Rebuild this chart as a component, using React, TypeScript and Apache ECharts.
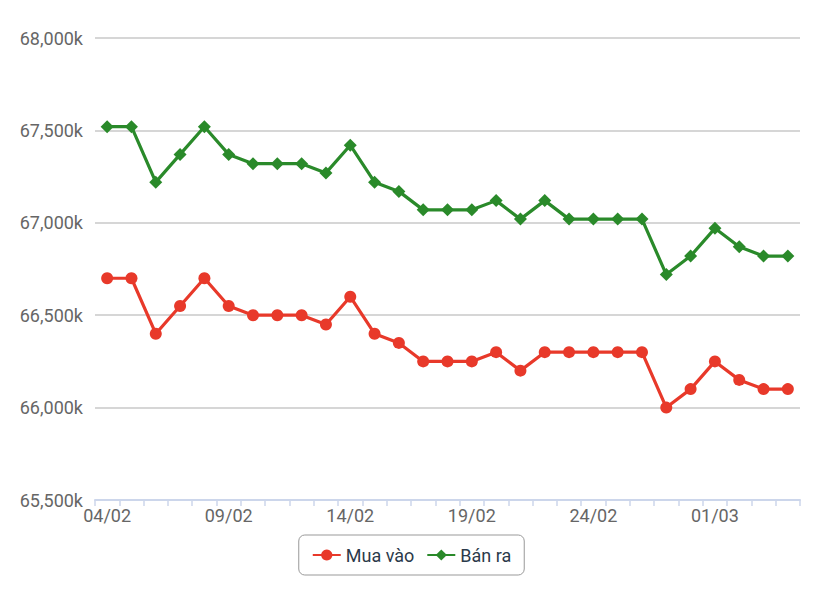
import React, { useEffect, useRef } from "react";
import * as echarts from "echarts";

const dates = [
  "04/02", "05/02", "06/02", "07/02", "08/02", "09/02", "10/02", "11/02", "12/02", "13/02",
  "14/02", "15/02", "16/02", "17/02", "18/02", "19/02", "20/02", "21/02", "22/02", "23/02",
  "24/02", "25/02", "26/02", "27/02", "28/02", "01/03", "02/03", "03/03", "04/03",
];

const muaVao = [
  66700, 66700, 66400, 66550, 66700, 66550, 66500, 66500, 66500, 66450,
  66600, 66400, 66350, 66250, 66250, 66250, 66300, 66200, 66300, 66300,
  66300, 66300, 66300, 66000, 66100, 66250, 66150, 66100, 66100,
];

const banRa = [
  67520, 67520, 67220, 67370, 67520, 67370, 67320, 67320, 67320, 67270,
  67420, 67220, 67170, 67070, 67070, 67070, 67120, 67020, 67120, 67020,
  67020, 67020, 67020, 66720, 66820, 66970, 66870, 66820, 66820,
];

const yMin = 65500;
const yMax = 68000;
const yStep = 500;

const FONT = "Roboto, 'Noto Sans', sans-serif";

export default function App() {
  const ref = useRef<HTMLDivElement>(null);
  useEffect(() => {
    if (!ref.current) return;
    const chart = echarts.init(ref.current, undefined, { renderer: "svg" });
    chart.setOption({
      animation: false,
      textStyle: { fontFamily: FONT },
      grid: { left: 95, right: 23, top: 38, bottom: 101, containLabel: false },
      legend: {
        bottom: 26,
        left: "center",
        data: ["Mua vào", "Bán ra"],
        borderColor: "#999",
        borderWidth: 1,
        borderRadius: 6,
        padding: [11, 13, 11, 13],
        itemGap: 12,
        itemWidth: 28,
        itemHeight: 14,
        textStyle: { fontSize: 18, color: "#2b3a4a", fontFamily: FONT },
      },
      xAxis: {
        type: "category",
        data: dates,
        boundaryGap: true,
        axisLine: { lineStyle: { color: "#ccd6eb", width: 2 } },
        axisTick: { show: true, interval: 0, length: 6, lineStyle: { color: "#ccd6eb", width: 1.5 } },
        axisLabel: { interval: 4, color: "#666", fontSize: 18, margin: 6, fontFamily: FONT },
      },
      yAxis: {
        type: "value",
        min: yMin,
        max: yMax,
        interval: yStep,
        axisLine: { show: false },
        axisTick: { show: false },
        splitLine: { lineStyle: { color: "#c8c8c8", width: 1.5 } },
        axisLabel: {
          color: "#666",
          fontSize: 18,
          margin: 12,
          fontFamily: FONT,
          formatter: (v: number) => v.toLocaleString("en-US") + "k",
        },
      },
      series: [
        {
          name: "Mua vào",
          type: "line",
          data: muaVao,
          symbol: "circle",
          symbolSize: 12,
          lineStyle: { color: "#e8392a", width: 3.2 },
          itemStyle: { color: "#e8392a" },
        },
        {
          name: "Bán ra",
          type: "line",
          data: banRa,
          symbol: "diamond",
          symbolSize: 13,
          lineStyle: { color: "#2a8a2a", width: 3.2 },
          itemStyle: { color: "#2a8a2a" },
        },
      ],
    });
    return () => chart.dispose();
  }, []);
  return <div ref={ref} style={{ width: 823, height: 601, position: "absolute", left: 0, top: 0 }} />;
}
